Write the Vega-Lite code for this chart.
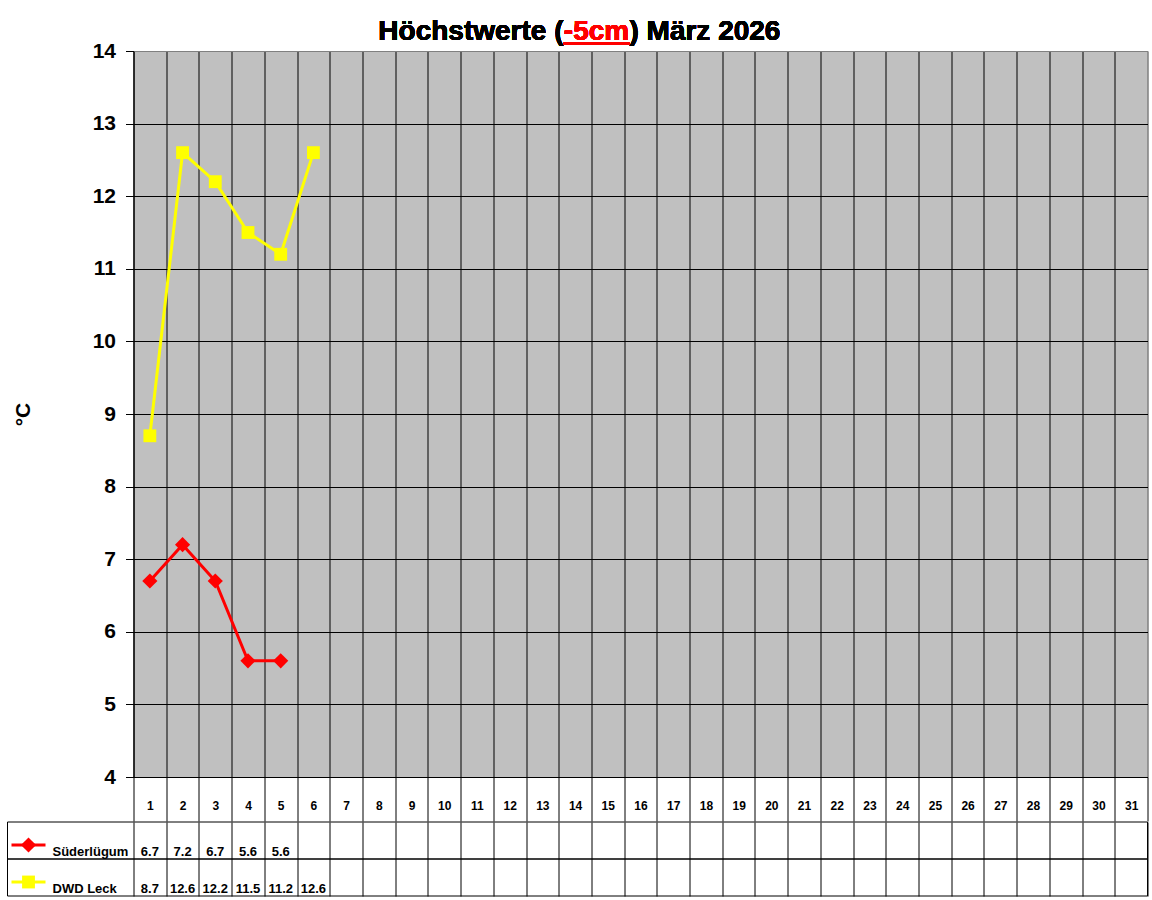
{
  "$schema": "https://vega.github.io/schema/vega-lite/v6.json",
  "background": "white",
  "padding": {"left": 6.5, "top": 17, "right": 5, "bottom": 5},
  "spacing": -2,
  "config": {"font": "Liberation Sans", "view": {"stroke": null}},
  "datasets": {
    "werte": [
      {"tag": 1, "station": "Süderlügum", "wert": 6.7},
      {"tag": 2, "station": "Süderlügum", "wert": 7.2},
      {"tag": 3, "station": "Süderlügum", "wert": 6.7},
      {"tag": 4, "station": "Süderlügum", "wert": 5.6},
      {"tag": 5, "station": "Süderlügum", "wert": 5.6},
      {"tag": 1, "station": "DWD Leck", "wert": 8.7},
      {"tag": 2, "station": "DWD Leck", "wert": 12.6},
      {"tag": 3, "station": "DWD Leck", "wert": 12.2},
      {"tag": 4, "station": "DWD Leck", "wert": 11.5},
      {"tag": 5, "station": "DWD Leck", "wert": 11.2},
      {"tag": 6, "station": "DWD Leck", "wert": 12.6}
    ]
  },
  "vconcat": [
    {
      "width": 1014,
      "height": 726,
      "data": {"name": "werte"},
      "view": {"fill": "#C0C0C0", "stroke": "#808080", "strokeWidth": 1},
      "layer": [
        {
          "mark": {"type": "line", "strokeWidth": 3},
          "encoding": {
            "x": {
              "field": "tag",
              "type": "quantitative",
              "scale": {"domain": [0.5, 31.5], "nice": false, "zero": false},
              "axis": {
                "orient": "bottom",
                "title": null,
                "values": [0.5, 1.5, 2.5, 3.5, 4.5, 5.5, 6.5, 7.5, 8.5, 9.5, 10.5, 11.5, 12.5, 13.5, 14.5, 15.5, 16.5, 17.5, 18.5, 19.5, 20.5, 21.5, 22.5, 23.5, 24.5, 25.5, 26.5, 27.5, 28.5, 29.5, 30.5, 31.5],
                "tickCount": 40,
                "grid": true,
                "gridColor": {"condition": {"test": "datum.value > 31", "value": "#808080"}, "value": "black"},
                "gridOpacity": 1,
                "domainColor": "black",
                "tickColor": "black",
                "tickSize": 44,
                "labelExpr": "datum.value < 31 ? format(datum.value + 0.5, 'd') : ''",
                "labelOffset": 16.35,
                "labelPadding": -12,
                "labelBaseline": "alphabetic",
                "labelFontSize": 12,
                "labelFontWeight": "bold",
                "labelColor": "black",
                "labelFlush": false,
                "labelOverlap": false,
                "labelBound": false
              }
            },
            "y": {
              "field": "wert",
              "type": "quantitative",
              "scale": {"domain": [4, 14], "nice": false, "zero": false},
              "axis": {
                "title": "°C",
                "values": [4, 5, 6, 7, 8, 9, 10, 11, 12, 13, 14],
                "tickCount": 20,
                "format": "d",
                "grid": true,
                "gridColor": {"condition": {"test": "datum.value >= 14", "value": "#808080"}, "value": "black"},
                "gridOpacity": 1,
                "domainColor": "black",
                "tickColor": "black",
                "tickSize": 8,
                "labelPadding": 10,
                "labelFontSize": 21,
                "labelFontWeight": "bold",
                "labelColor": "black",
                "titleFontSize": 21,
                "titleFontWeight": "bold",
                "titleColor": "black",
                "titleAngle": -90,
                "titleAlign": "center",
                "titleBaseline": "middle",
                "titleX": -110,
                "titleY": 363
              }
            },
            "color": {
              "field": "station",
              "type": "nominal",
              "scale": {"domain": ["Süderlügum", "DWD Leck"], "range": ["#FF0000", "#FFFF00"]},
              "legend": null
            }
          }
        },
        {
          "mark": {"type": "point", "filled": true, "opacity": 1},
          "encoding": {
            "x": {"field": "tag", "type": "quantitative"},
            "y": {"field": "wert", "type": "quantitative"},
            "color": {"field": "station", "type": "nominal", "legend": null},
            "shape": {
              "field": "station",
              "type": "nominal",
              "scale": {"domain": ["Süderlügum", "DWD Leck"], "range": ["diamond", "square"]},
              "legend": null
            },
            "size": {
              "field": "station",
              "type": "nominal",
              "scale": {"domain": ["Süderlügum", "DWD Leck"], "range": [230, 165]},
              "legend": null
            }
          }
        },
        {
          "mark": {"type": "text", "align": "right", "baseline": "alphabetic", "fontSize": 28, "fontWeight": "bold", "color": "black", "text": "Höchstwerte ("},
          "encoding": {
            "x": {"datum": 13.646, "type": "quantitative"},
            "y": {"datum": 14.155, "type": "quantitative"}
          }
        },
        {
          "mark": {"type": "text", "align": "center", "baseline": "alphabetic", "fontSize": 28, "fontWeight": "bold", "color": "#FF0000", "text": "-5cm"},
          "encoding": {
            "x": {"datum": 14.655, "type": "quantitative"},
            "y": {"datum": 14.155, "type": "quantitative"}
          }
        },
        {
          "mark": {"type": "text", "align": "left", "baseline": "alphabetic", "fontSize": 28, "fontWeight": "bold", "color": "black", "text": ") März 2026"},
          "encoding": {
            "x": {"datum": 15.663, "type": "quantitative"},
            "y": {"datum": 14.155, "type": "quantitative"}
          }
        },
        {
          "mark": {"type": "rule", "color": "#FF0000", "strokeWidth": 2},
          "encoding": {
            "x": {"datum": 13.646, "type": "quantitative"},
            "x2": {"datum": 15.663},
            "y": {"datum": 14.105, "type": "quantitative"}
          }
        }
      ]
    },
    {
      "width": 1014,
      "height": 74,
      "data": {"name": "werte"},
      "layer": [
        {
          "transform": [{"filter": "datum.tag == 1"}],
          "mark": {"type": "rect", "fillOpacity": 0, "stroke": "black", "strokeWidth": 1},
          "encoding": {
            "x": {
              "datum": -3.352,
              "type": "quantitative",
              "scale": {"domain": [0.5, 31.5], "nice": false, "zero": false},
              "axis": {
                "title": null,
                "values": [0.5, 1.5, 2.5, 3.5, 4.5, 5.5, 6.5, 7.5, 8.5, 9.5, 10.5, 11.5, 12.5, 13.5, 14.5, 15.5, 16.5, 17.5, 18.5, 19.5, 20.5, 21.5, 22.5, 23.5, 24.5, 25.5, 26.5, 27.5, 28.5, 29.5, 30.5, 31.5],
                "tickCount": 40,
                "grid": true,
                "gridColor": "black",
                "gridOpacity": 1,
                "domain": false,
                "ticks": false,
                "labels": false
              }
            },
            "x2": {"datum": 31.5},
            "y": {
              "field": "station",
              "type": "nominal",
              "scale": {"domain": ["Süderlügum", "DWD Leck"], "paddingInner": 0, "paddingOuter": 0},
              "axis": null
            }
          }
        },
        {
          "mark": {"type": "text", "align": "center", "baseline": "alphabetic", "dy": 15.5, "fontSize": 13, "fontWeight": "bold", "color": "black"},
          "encoding": {
            "x": {"field": "tag", "type": "quantitative"},
            "y": {"field": "station", "type": "nominal"},
            "text": {"field": "wert", "type": "quantitative", "format": ".1f"}
          }
        },
        {
          "transform": [{"filter": "datum.tag == 1"}],
          "mark": {"type": "text", "align": "left", "baseline": "alphabetic", "dy": 15.5, "fontSize": 13, "fontWeight": "bold", "color": "black"},
          "encoding": {
            "x": {"datum": -1.976, "type": "quantitative"},
            "y": {"field": "station", "type": "nominal"},
            "text": {"field": "station", "type": "nominal"}
          }
        },
        {
          "transform": [{"filter": "datum.tag == 1"}],
          "mark": {"type": "rule", "strokeWidth": 3, "yOffset": 4.5},
          "encoding": {
            "x": {"datum": -3.23, "type": "quantitative"},
            "x2": {"datum": -2.19},
            "y": {"field": "station", "type": "nominal"},
            "color": {
              "field": "station",
              "type": "nominal",
              "scale": {"domain": ["Süderlügum", "DWD Leck"], "range": ["#FF0000", "#FFFF00"]},
              "legend": null
            }
          }
        },
        {
          "transform": [{"filter": "datum.tag == 1"}],
          "mark": {"type": "point", "filled": true, "opacity": 1, "yOffset": 4.5},
          "encoding": {
            "x": {"datum": -2.71, "type": "quantitative"},
            "y": {"field": "station", "type": "nominal"},
            "color": {"field": "station", "type": "nominal", "legend": null},
            "shape": {
              "field": "station",
              "type": "nominal",
              "scale": {"domain": ["Süderlügum", "DWD Leck"], "range": ["diamond", "square"]},
              "legend": null
            },
            "size": {
              "field": "station",
              "type": "nominal",
              "scale": {"domain": ["Süderlügum", "DWD Leck"], "range": [200, 150]},
              "legend": null
            }
          }
        }
      ]
    }
  ]
}
